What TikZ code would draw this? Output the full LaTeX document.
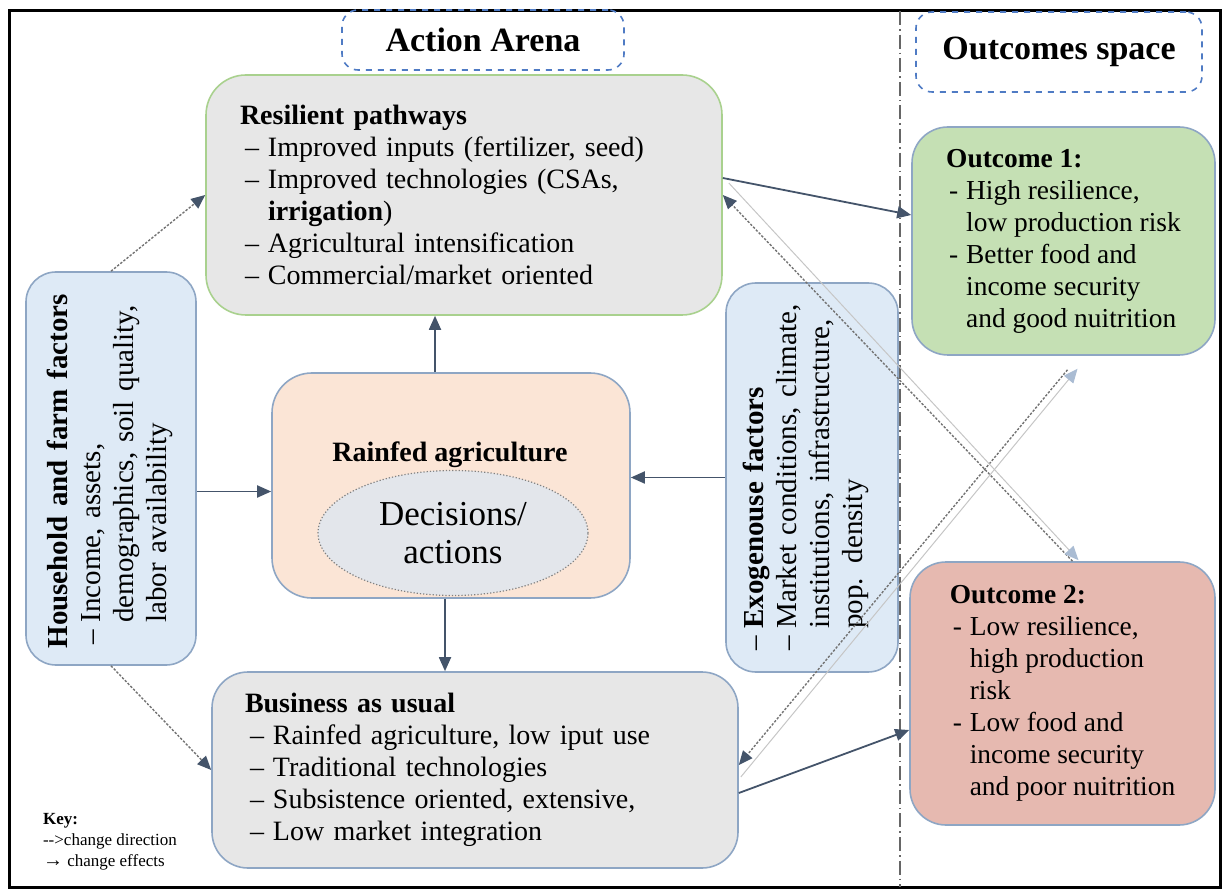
\documentclass[tikz,border=0pt]{standalone}
\usepackage{fontspec}
\setmainfont{Liberation Serif}
\usetikzlibrary{arrows.meta,calc,positioning,shapes.geometric}

\definecolor{slate}{HTML}{44546A}
\definecolor{boxline}{HTML}{8EA6C4}
\definecolor{greenline}{HTML}{A9D18E}
\definecolor{greyfill}{HTML}{E7E7E7}
\definecolor{bluefill}{HTML}{DEEAF6}
\definecolor{peachfill}{HTML}{FBE5D6}
\definecolor{greenfill}{HTML}{C5E0B4}
\definecolor{redfill}{HTML}{E6B9B0}
\definecolor{ovalfill}{HTML}{E3E6EB}
\definecolor{titleline}{HTML}{4F7BC4}

\newcommand{\dashitem}{\makebox[14pt][l]{\hspace{2.5pt}\textendash}}
\newcommand{\dashcont}{\hspace*{14pt}}
\newcommand{\hyitem}{\makebox[10pt][l]{\hspace{1.5pt}-}}
\newcommand{\hycont}{\hspace*{10pt}}
\newcommand{\rotitem}{\makebox[13pt][l]{\hspace{2pt}\textendash}}
\newcommand{\rotcont}{\hspace*{13pt}}

\begin{document}
\begin{tikzpicture}[x=0.5pt,y=-0.5pt]
    \tikzset{
      block/.style={
        draw=boxline,
        line width=0.8pt,
        rectangle,
        rounded corners=18pt,
        align=left,
        inner ysep=0pt,
        font=\fontsize{14}{16}\selectfont
      },
      titlebox/.style={
        draw=titleline,
        dashed,
        line width=0.8pt,
        rounded corners=8pt,
        font=\fontsize{17}{19}\selectfont\bfseries
      },
      rottext/.style={
        rotate=90,
        align=left,
        text width=180pt,
        font=\fontsize{14.5}{16.5}\selectfont
      },
      effect/.style={
        -{Triangle[length=7pt,width=6pt]},
        draw=slate,
        line width=0.9pt
      },
      direction/.style={
        -{Triangle[length=7pt,width=6pt,color=slate]},
        draw=gray!90!black,
        dash pattern=on 1.2pt off 0.8pt,
        line width=0.7pt
      },
      faint/.style={
        -{Triangle[length=7pt,width=6pt,color=boxline!75]},
        draw=gray!45,
        line width=0.5pt
      }
    };

    \useasboundingbox (0,0) rectangle (1225,892);

    % frame and split between the two spaces
    \draw[line width=1.5pt] (9,11) rectangle (1220,887);
    \draw[gray!80!black, line width=0.7pt,
      dash pattern=on 7pt off 2pt on 0.8pt off 2pt] (900,11) -- (900,887);

    \node [titlebox, minimum width=141pt, minimum height=30pt] (arena) at (483,40) {Action Arena};
    \node [titlebox, minimum width=143pt, minimum height=40pt] (space) at (1059,52) {Outcomes space};

    % action arena
    \node [block, draw=greenline, fill=greyfill, minimum width=258pt, minimum height=120pt,
      text width=224pt, inner xsep=17pt, rounded corners=20pt] (res) at (464,195)
      {\textbf{Resilient pathways}\\
       \dashitem Improved inputs (fertilizer, seed)\\
       \dashitem Improved technologies (CSAs,\\
       \dashcont\textbf{irrigation})\\
       \dashitem Agricultural intensification\\
       \dashitem Commercial/market oriented};

    \node [block, fill=bluefill, minimum width=85pt, minimum height=196.5pt, rounded corners=15pt] (hh) at (111,468.5) {};
    \node [rottext] (hhtext) at ($(hh.center)+(-1,0)$)
      {\textbf{Household and farm factors}\\
       \rotitem Income, assets,\\
       \rotcont demographics, soil quality,\\
       \rotcont labor availability};

    \node [block, fill=bluefill, minimum width=86pt, minimum height=194.5pt, rounded corners=15pt] (exo) at (812,477.5) {};
    \node [rottext] (exotext) at ($(exo.center)+(-6,-3)$)
      {\rotitem\textbf{Exogenouse factors}\\
       \rotitem Market conditions, climate,\\
       \rotcont institutions, infrastructure,\\
       \rotcont pop. density};

    \node [block, fill=peachfill, minimum width=179pt, minimum height=112.5pt, rounded corners=20pt] (rain) at (451,485.5) {};
    \node [font=\fontsize{14}{16}\selectfont\bfseries] (raintitle) at (450,455) {Rainfed agriculture};
    \node [ellipse, draw=gray, densely dotted, line width=0.6pt, fill=ovalfill,
      minimum width=135pt, minimum height=62.5pt, inner sep=0pt, align=center,
      font=\fontsize{17.5}{19}\selectfont] (decide) at (453,533) {Decisions/\\actions};

    \node [block, fill=greyfill, minimum width=263pt, minimum height=98pt,
      text width=230pt, inner xsep=16.5pt] (bau) at (475,770)
      {\textbf{Business as usual}\\
       \dashitem Rainfed agriculture, low iput use\\
       \dashitem Traditional technologies\\
       \dashitem Subsistence oriented, extensive,\\
       \dashitem Low market integration};

    % outcomes space
    \node [block, fill=greenfill, minimum width=151.5pt, minimum height=114pt,
      font=\fontsize{13.7}{16}\selectfont] (out1) at (1063.5,241)
      {\textbf{Outcome 1:}\\
       \hyitem High resilience,\\
       \hycont low production risk\\
       \hyitem Better food and\\
       \hycont income security\\
       \hycont and good nuitrition};

    \node [block, fill=redfill, minimum width=152.5pt, minimum height=131.5pt,
      font=\fontsize{13.7}{16}\selectfont] (out2) at (1062.5,693.5)
      {\textbf{Outcome 2:}\\
       \hyitem Low resilience,\\
       \hycont high production\\
       \hycont risk\\
       \hyitem Low food and\\
       \hycont income security\\
       \hycont and poor nuitrition};

    \node [anchor=north west, align=left, font=\fontsize{8.5}{10.5}\selectfont] (key) at (36,806)
      {\textbf{Key:}\\
       -{}->change direction\\
       {\fontsize{10}{10.5}\selectfont →} change effects};

    % change effects
    \draw[effect] ($(hh.east |- rain.west)+(0,6)$) -- ($(rain.west)+(0,6)$);
    \draw[effect] (exo.west) -- (exo.west -| rain.east);
    \draw[effect] ($(rain.north)+(-16,0)$) -- ($(rain.north |- res.south)+(-16,0)$);
    \draw[effect] ($(rain.south)+(-6,0)$) -- ($(rain.south |- bau.north)+(-6,0)$);
    \draw[effect] ($(res.east)+(0,-17)$) -- ($(out1.west)+(0,-26)$);
    \draw[effect] ($(bau.east)+(0,23)$) -- ($(out2.west)+(0,36.5)$);

    % change direction
    \draw[direction] (hh.north) -- (res.west);
    \draw[direction] (hh.south) -- (bau.west);
    \draw[direction] ($(out2.north)+(10,0)$) -- (res.east);
    \draw[direction] ($(out1.south)+(4,14)$) -- ($(bau.east)+(0,-5)$);

    % crossing links
    \draw[faint] ($(res.east)+(6,-12)$) -- ($(out2.north)+(16,-1)$);
    \draw[faint] ($(bau.east)+(2,7)$) -- ($(out1.south)+(14,13)$);

  \end{tikzpicture}
\end{document}
